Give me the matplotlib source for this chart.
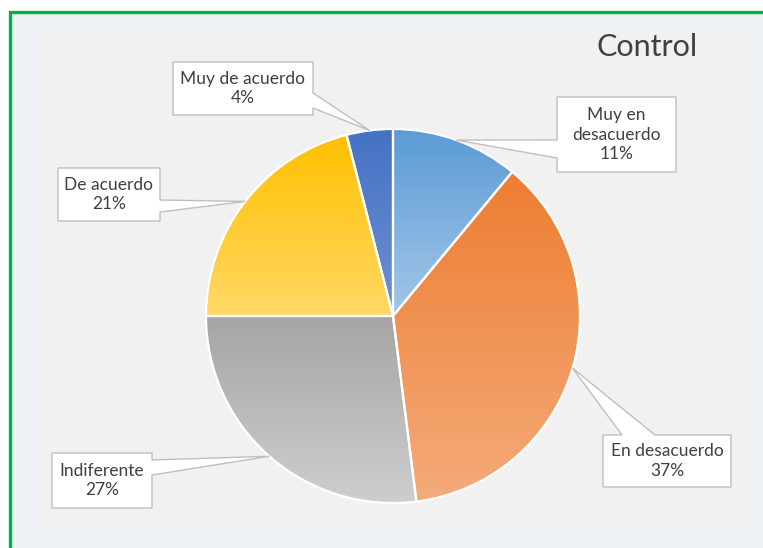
import numpy as np
import matplotlib
matplotlib.use("Agg")
from matplotlib import pyplot as plt
from matplotlib.patches import Rectangle, Polygon
from matplotlib.colors import to_rgb

# data
categories = ["Muy en\ndesacuerdo", "En desacuerdo", "Indiferente", "De acuerdo", "Muy de acuerdo"]
percent = [11, 37, 27, 21, 4]
title = "Control"

# colours (top of slice, bottom of slice) for the gradient fill
top_colors = ["#5b9bd5", "#ed7d31", "#a5a5a5", "#ffc000", "#4472c4"]
bottom_colors = ["#a4c6e9", "#f4ab7a", "#cecece", "#ffd866", "#6f90d2"]

W, H = 763, 548
def Y(y):  # pixel row -> data y (y up)
  return H - y

plt.rcParams['font.family'] = ['Lato', 'DejaVu Sans']
fig = plt.figure(figsize=(W/100, H/100), dpi=100, facecolor="white")
ax = fig.add_axes([0, 0, 1, 1])
ax.set_axis_off()

# chart frame
ax.add_patch(Rectangle((10, Y(560)), 770, 560-12, facecolor="#eef2f6",
                       edgecolor="#00b050", linewidth=2.4, zorder=0))
ax.add_patch(Rectangle((38, Y(530)), 750-38, 530-28, facecolor="#f1f1f1",
                       edgecolor="#f4eef0", linewidth=0.8, zorder=0))

# pie
cx, cy, R = 393, Y(316), 187
wedges, _ = ax.pie(percent, startangle=90, counterclock=False, center=(cx, cy),
                   radius=R, frame=True,
                   wedgeprops=dict(facecolor="none", edgecolor="white", linewidth=1.6, zorder=3))

for w, c1, c2 in zip(wedges, top_colors, bottom_colors):
  t = np.radians(np.linspace(w.theta1, w.theta2, 100))
  xs = np.concatenate([[cx], cx + R*np.cos(t)])
  ys = np.concatenate([[cy], cy + R*np.sin(t)])
  n = 256
  a = np.linspace(0, 1, n)[:, None]
  grad = (1-a)*np.array(to_rgb(c2)) + a*np.array(to_rgb(c1))
  im = ax.imshow(grad[:, None, :], extent=[xs.min(), xs.max(), ys.min(), ys.max()],
                 origin="lower", aspect="auto", zorder=2, interpolation="bilinear")
  im.set_clip_path(w)

# callout boxes (pixel coords): box, side, base points on that side
boxes = [
  ((557, 97, 676, 172), "left", (140, 158)),
  ((603, 435, 731, 487), "top", (622, 655)),
  ((52, 453, 152, 508), "right", (460, 475)),
  ((58, 168, 160, 221), "right", (200, 212)),
  ((173, 62, 313, 115), "right", (93, 108)),
]

for w, (box, side, base), name, p in zip(wedges, boxes, categories, percent):
  x0, y0, x1, y1 = box
  th = np.radians((w.theta1 + w.theta2)/2)
  tip = (cx + R*np.cos(th), cy + R*np.sin(th))
  b1, b2 = base
  if side == "top":
    pts = [(x0, Y(y0)), (b1, Y(y0)), tip, (b2, Y(y0)), (x1, Y(y0)), (x1, Y(y1)), (x0, Y(y1))]
  elif side == "right":
    pts = [(x0, Y(y0)), (x1, Y(y0)), (x1, Y(b1)), tip, (x1, Y(b2)), (x1, Y(y1)), (x0, Y(y1))]
  else:
    pts = [(x0, Y(y0)), (x1, Y(y0)), (x1, Y(y1)), (x0, Y(y1)), (x0, Y(b2)), tip, (x0, Y(b1))]
  ax.add_patch(Polygon(pts, closed=True, facecolor="white", edgecolor="#bfbfbf",
                       linewidth=1, zorder=4))
  ax.text((x0+x1)/2, Y((y0+y1)/2), "{}\n{}%".format(name, p), ha="center", va="center",
          fontsize=12.5, color="#404040", linespacing=1.3, zorder=5)

ax.text(647, Y(47), title, ha="center", va="center", fontsize=22, color="#404040", zorder=5)

ax.set_xlim(0, W)
ax.set_ylim(0, H)
ax.set_aspect("auto")
fig.savefig("out.png", dpi=100, facecolor="white")
